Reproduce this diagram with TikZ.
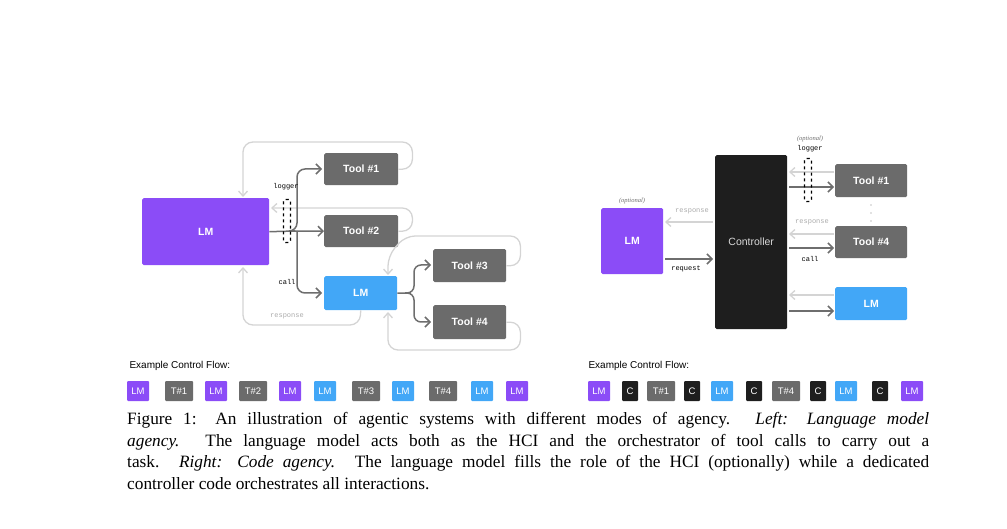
\documentclass[tikz,border=0pt]{standalone}
\usepackage{fontspec}
\setmainfont{Liberation Serif}
\newfontfamily\sansf{Liberation Sans}
\newfontfamily\monof{Liberation Mono}
\usetikzlibrary{arrows.meta}
\definecolor{lmp}{HTML}{8B4CF7}
\definecolor{lmb}{HTML}{42A7F7}
\definecolor{toolg}{HTML}{6B6B6B}
\definecolor{ctrl}{HTML}{1E1E1E}
\definecolor{lite}{HTML}{D4D4D4}
\definecolor{dark}{HTML}{6E6E6E}
\begin{document}
\begin{tikzpicture}[x=1pt,y=-1pt,
 box/.style={rounded corners=1.5pt,text=white,font=\sansf\bfseries\fontsize{10}{12}\selectfont,inner sep=0pt,anchor=north west},
 bt/.style={text=white,font=\sansf\bfseries\fontsize{10.5}{12}\selectfont},
 back/.style={lite,line width=1.3pt,rounded corners=10pt,-{Straight Barb[length=5pt,width=9pt]}},
 fwd/.style={dark,line width=1.5pt,-{Straight Barb[length=5pt,width=10pt]}},
 lbl/.style={font=\monof\fontsize{7}{8}\selectfont},
 opt/.style={font=\itshape\fontsize{6.5}{7}\selectfont,text=dark},
 cf/.style={rounded corners=1pt,text=white,font=\sansf\fontsize{9.5}{10}\selectfont,minimum height=20pt,inner sep=0pt}]
\useasboundingbox (0,0) rectangle (1007,529);
% ---------- left
\node[box,fill=lmp,minimum width=127pt,minimum height=67pt] (lm) at (142,198) {};
\node[bt] at (lm.center) {LM};
\node[box,fill=toolg,minimum width=74pt,minimum height=32pt] (t1) at (324,153) {};
\node[bt] at (t1.center) {Tool \#1};
\node[box,fill=toolg,minimum width=74pt,minimum height=32pt] (t2) at (324,215) {};
\node[bt] at (t2.center) {Tool \#2};
\node[box,fill=lmb,minimum width=73pt,minimum height=34pt] (lb) at (324,276) {};
\node[bt] at (lb.center) {LM};
\node[box,fill=toolg,minimum width=73pt,minimum height=33pt] (t3) at (433,249) {};
\node[bt] at (t3.center) {Tool \#3};
\node[box,fill=toolg,minimum width=73pt,minimum height=34pt] (t4) at (433,305) {};
\node[bt] at (t4.center) {Tool \#4};
\coordinate (br) at (295,231);
% feedback
\draw[back] (t1.east) -- ++(14,0) |- (243,142) -- (243,197);
\draw[back] (t2.east) -- ++(14,0) |- (271,208);
\draw[back] (t3.east) -- ++(14,0) |- (405,236) -- (388,256) -- (388,275);
\draw[back] (t4.east) -- ++(14,0) |- (388,350) -- (388,312);
\draw[back] (lb.south) -- (360,325) -| (243,267);
% calls
\draw[fwd,-] (lm.east) -- (br);
\draw[fwd,rounded corners=8pt] (br) -- (297,231) -- (297,169) -- (322,169);
\draw[fwd] (br) -- (t2.west);
\draw[fwd,rounded corners=8pt] (297,231) -- (297,293) -- (322,293);
\draw[fwd,-,rounded corners=6pt] (lb.east) -- (411,293);
\draw[fwd,rounded corners=7pt] (405,293) -- (414,293) -- (414,265) -- (431,265);
\draw[fwd,rounded corners=7pt] (405,293) -- (414,293) -- (414,322) -- (431,322);
\node[draw=black,dashed,line width=1.3pt,rounded corners=2pt,minimum width=7pt,minimum height=43pt,inner sep=0pt] (lg) at (287,221) {};
\node[lbl] at (286,187) {logger};
\node[lbl] at (287,282) {call};
\node[lbl,text=lite!80!black] at (287,316) {response};
% ---------- right
\node[box,fill=lmp,minimum width=62pt,minimum height=66pt] (rlm) at (601,208) {};
\node[bt] at (rlm.center) {LM};
\node[box,fill=ctrl,minimum width=72pt,minimum height=174pt] (ct) at (715,155) {};
\node[text=white!85!black,font=\sansf\fontsize{10.5}{12}\selectfont] at (ct.center) {Controller};
\node[box,fill=toolg,minimum width=72pt,minimum height=33pt] (r1) at (835,164) {};
\node[bt] at (r1.center) {Tool \#1};
\node[box,fill=toolg,minimum width=72pt,minimum height=32pt] (r4) at (835,226) {};
\node[bt] at (r4.center) {Tool \#4};
\node[box,fill=lmb,minimum width=72pt,minimum height=33pt] (rlb) at (835,287) {};
\node[bt] at (rlb.center) {LM};
\draw[back] (713,222) -- (665,222);
\draw[fwd] (665,259) -- (713,259);
\draw[back] (834,172) -- (789,172);
\draw[fwd] (789,187) -- (834,187);
\draw[back] (834,234) -- (789,234);
\draw[fwd] (789,248) -- (834,248);
\draw[back] (834,295) -- (789,295);
\draw[fwd] (789,311) -- (834,311);
\node[draw=black,dashed,line width=1.3pt,rounded corners=2pt,minimum width=7pt,minimum height=43pt,inner sep=0pt] (rlg) at (808,180) {};
\node[lbl] at (810,149) {logger};
\node[opt] at (810,139) {(optional)};
\node[opt] at (632,201) {(optional)};
\node[lbl,text=lite!80!black] at (692,211) {response};
\node[lbl] at (686,269) {request};
\node[lbl,text=lite!80!black] at (812,222) {response};
\node[lbl] at (810,259) {call};
\foreach \yy in {205,213,221} \fill[gray] (871,\yy) circle (0.6pt);
% ---------- control flow
\node[anchor=west,font=\sansf\fontsize{10}{12}\selectfont] at (126,366) {Example Control Flow:};
\node[anchor=west,font=\sansf\fontsize{10}{12}\selectfont] at (585,366) {Example Control Flow:};
\foreach \xx/\t/\c/\w [count=\i] in {138/LM/lmp/22,179/T\#1/toolg/28,216/LM/lmp/22,253/T\#2/toolg/28,290/LM/lmp/22,325/LM/lmb/22,366/T\#3/toolg/28,403/LM/lmb/22,443/T\#4/toolg/28,482/LM/lmb/22,517/LM/lmp/22}
  \node[cf,fill=\c,minimum width=\w pt] (a\i) at (\xx,391) {\t};
\foreach \xx/\t/\c/\w [count=\i] in {599/LM/lmp/22,630/C/ctrl/16,661/T\#1/toolg/28,692/C/ctrl/16,722/LM/lmb/22,754/C/ctrl/16,786/T\#4/toolg/28,818/C/ctrl/16,846/LM/lmb/22,880/C/ctrl/16,912/LM/lmp/22}
  \node[cf,fill=\c,minimum width=\w pt] (b\i) at (\xx,391) {\t};
% ---------- caption
\node[anchor=north west,text width=802pt,inner sep=0pt,align=justify,font=\fontsize{17.3}{21.7}\selectfont] (cap) at (127,412)
{Figure 1: An illustration of agentic systems with different modes of agency. \emph{Left: Language model}\linebreak
\emph{agency.} The language model acts both as the HCI and the orchestrator of tool calls to carry out a\linebreak
task. \emph{Right: Code agency.} The language model fills the role of the HCI (optionally) while a dedicated\linebreak
controller code orchestrates all interactions.};
\end{tikzpicture}
\end{document}
